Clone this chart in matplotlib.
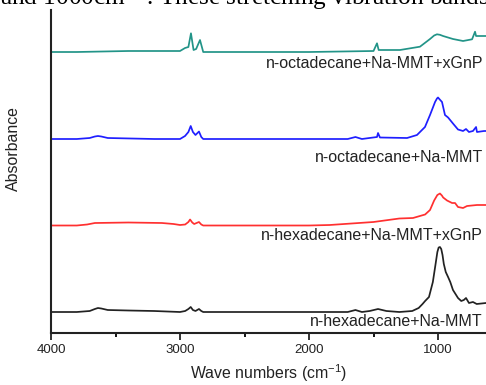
import matplotlib
matplotlib.use("Agg")
import matplotlib.pyplot as plt
from matplotlib.ticker import MultipleLocator

plt.rcParams['font.family'] = ['Liberation Sans', 'DejaVu Sans']
plt.rcParams['mathtext.fontset'] = 'custom'
plt.rcParams['mathtext.rm'] = 'Liberation Sans'
plt.rcParams['mathtext.it'] = 'Liberation Sans'

# ---- data (wavenumber in cm^-1, relative absorbance above own baseline) ----
labels = ["n-hexadecane+Na-MMT", "n-hexadecane+Na-MMT+xGnP",
          "n-octadecane+Na-MMT", "n-octadecane+Na-MMT+xGnP"]
colors = ["#222222", "#ff3030", "#1f1fff", "#229488"]
offsets = [0.21, 1.075, 1.94, 2.81]

wn_hexa = [4000, 3800, 3700, 3660, 3636, 3610, 3560, 3400, 3200, 3000, 2960, 2935,
           2917, 2900, 2880, 2853, 2835, 2820, 1700, 1640, 1590, 1530, 1465, 1400,
           1300, 1200, 1150, 1120, 1100, 1070, 1040, 1020, 1005, 995, 985, 975, 965,
           955, 940, 922, 905, 884, 845, 820, 800, 783, 760, 729, 700, 628]
ab_hexa = [0.00, 0.00, 0.01, 0.03, 0.04, 0.035, 0.02, 0.015, 0.01, 0.00, 0.01, 0.03,
           0.05, 0.02, 0.01, 0.03, 0.01, 0.00, 0.00, 0.02, 0.00, 0.01, 0.03, 0.01,
           0.00, 0.01, 0.04, 0.08, 0.11, 0.15, 0.30, 0.47, 0.60, 0.645, 0.65, 0.63,
           0.57, 0.48, 0.40, 0.35, 0.30, 0.22, 0.14, 0.11, 0.12, 0.14, 0.09, 0.10,
           0.08, 0.09]

wn_hexa_g = [4000, 3800, 3720, 3660, 3400, 3140, 3050, 3000, 2960, 2935, 2922, 2905,
             2890, 2853, 2835, 2820, 2000, 1840, 1500, 1300, 1194, 1100, 1062, 1030,
             1005, 985, 970, 960, 930, 891, 868, 845, 806, 775, 698, 628]
ab_hexa_g = [0.00, 0.00, 0.01, 0.025, 0.03, 0.025, 0.015, 0.005, 0.01, 0.035, 0.06,
             0.03, 0.015, 0.035, 0.01, 0.00, 0.00, 0.005, 0.035, 0.07, 0.075, 0.11,
             0.155, 0.25, 0.305, 0.32, 0.30, 0.28, 0.25, 0.225, 0.225, 0.185, 0.175,
             0.195, 0.205, 0.205]

wn_octa = [4000, 3800, 3700, 3660, 3636, 3610, 3560, 3200, 3000, 2961, 2935, 2917,
           2900, 2880, 2853, 2835, 2820, 2000, 1700, 1640, 1590, 1473, 1465, 1450,
           1240, 1163, 1101, 1062, 1023, 1008, 1000, 990, 969, 946, 922, 884, 845,
           806, 783, 760, 729, 705, 698, 643, 628]
ab_octa = [0.00, 0.00, 0.01, 0.025, 0.03, 0.025, 0.01, 0.00, 0.00, 0.03, 0.07, 0.13,
           0.07, 0.04, 0.075, 0.02, 0.00, 0.00, 0.00, 0.02, 0.00, 0.02, 0.06, 0.015,
           0.01, 0.04, 0.12, 0.24, 0.37, 0.405, 0.415, 0.40, 0.37, 0.24, 0.215, 0.155,
           0.095, 0.08, 0.10, 0.07, 0.08, 0.12, 0.07, 0.08, 0.08]

wn_octa_g = [4000, 3800, 3600, 3400, 3000, 2961, 2935, 2915, 2895, 2875, 2845, 2820,
             2000, 1500, 1473, 1460, 1295, 1140, 1062, 1030, 1008, 985, 961, 884, 806,
             736, 713, 705, 643, 628]
ab_octa_g = [0.00, 0.00, 0.005, 0.01, 0.01, 0.04, 0.05, 0.187, 0.02, 0.03, 0.12,
             0.00, 0.00, 0.01, 0.087, 0.02, 0.02, 0.053, 0.13, 0.165, 0.177, 0.172,
             0.16, 0.13, 0.11, 0.127, 0.203, 0.16, 0.16, 0.16]

series_wn = [wn_hexa, wn_hexa_g, wn_octa, wn_octa_g]
series_ab = [ab_hexa, ab_hexa_g, ab_octa, ab_octa_g]
label_y = [0.11, 0.98, 1.75, 2.70]

xticks_major = [4000, 3000, 2000, 1000]

# ---- figure ----
W, H = 486, 385
fig = plt.figure(figsize=(W / 100, H / 100), dpi=100)
ax = fig.add_axes([51 / W, (H - 333) / H, (W - 51) / W, (333 - 10) / H])

for wn, ab, off, c in zip(series_wn, series_ab, offsets, colors):
    ax.plot(wn, [a + off for a in ab], color=c, lw=1.25, solid_joinstyle='round')

for lab, ly in zip(labels, label_y):
    ax.text(0.993, ly, lab, transform=ax.get_yaxis_transform(), ha='right',
            va='center', fontsize=11.5, color='#222222')

ax.set_xlim(4000, 628)
ax.set_ylim(0, 3.23)
ax.set_xticks(xticks_major)
ax.xaxis.set_minor_locator(MultipleLocator(500))
ax.set_yticks([])
ax.tick_params(axis='x', which='major', direction='out', length=5, width=1.3,
               labelsize=9.5, colors='#222222', pad=3)
ax.tick_params(axis='x', which='minor', direction='out', length=3, width=1.3)
for s in ['top', 'right']:
    ax.spines[s].set_visible(False)
for s in ['left', 'bottom']:
    ax.spines[s].set_linewidth(1.5)
    ax.spines[s].set_color('#222222')

ax.set_xlabel("Wave numbers (cm$^{-1}$)", fontsize=11.4, color='#222222', labelpad=4.5)
ax.set_ylabel("Absorbance", fontsize=11.4, color='#222222')
ax.yaxis.set_label_coords(-0.068, 0.57)

fig.text(0.0, 1 - 5 / H, "and 1000cm$^{-1}$. These stretching vibration bands",
         family=['Liberation Serif', 'DejaVu Serif'], fontsize=18.2, color='black',
         va='baseline', ha='left', math_fontfamily='stix')

fig.savefig("out.png", dpi=100)
